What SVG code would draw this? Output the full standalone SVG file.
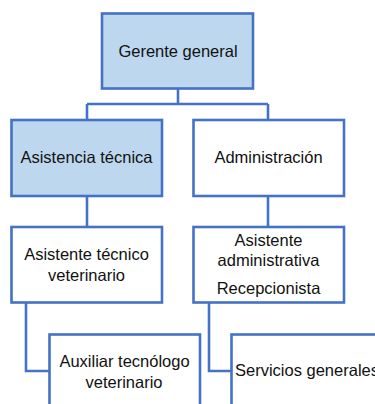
<svg xmlns="http://www.w3.org/2000/svg" width="375" height="404" viewBox="0 0 375 404">
<style>
.box{stroke:#4472C4;stroke-width:2.6;fill:#FFFFFF}
.blue{fill:#BDD7EE}
.lbl{font-family:"Liberation Sans",Arial,sans-serif;font-size:16.5px;fill:#111111;text-anchor:middle}
.lft{text-anchor:start}
.con{stroke:#4472C4;stroke-width:2.6;fill:none}
</style>
<rect width="375" height="404" fill="#FFFFFF"/>
<g id="connectors">
<path class="con" d="M178 88 V104 M87 104 H268 M87 104 V120 M268 104 V120"/>
<path class="con" d="M87 196 V227 M268 196 V227"/>
<path class="con" d="M26 303 V371 H49"/>
<path class="con" d="M209 303 V371 H231"/>
</g>
<g id="gerente">
<rect class="box blue" x="102" y="13.5" width="151" height="75"/>
<text class="lbl" x="178" y="57">Gerente general</text>
</g>
<g id="asistencia">
<rect class="box blue" x="11.5" y="120" width="150.5" height="76"/>
<text class="lbl" x="86.5" y="163">Asistencia técnica</text>
</g>
<g id="administracion">
<rect class="box" x="193.5" y="120" width="150.5" height="76"/>
<text class="lbl" x="268.5" y="163">Administración</text>
</g>
<g id="asistente-tecnico">
<rect class="box" x="11.5" y="227" width="150.5" height="75.5"/>
<text class="lbl" x="86.5" y="260">Asistente técnico</text>
<text class="lbl" x="86.5" y="281">veterinario</text>
</g>
<g id="asistente-administrativa">
<rect class="box" x="193.5" y="227" width="150.5" height="75.5"/>
<text class="lbl" x="268.5" y="246">Asistente</text>
<text class="lbl" x="268.5" y="266">administrativa</text>
<text class="lbl" x="268.5" y="294">Recepcionista</text>
</g>
<g id="auxiliar">
<rect class="box" x="49.5" y="334.5" width="150.5" height="80"/>
<text class="lbl" x="124.5" y="367">Auxiliar tecnólogo</text>
<text class="lbl" x="124" y="388">veterinario</text>
</g>
<g id="servicios">
<rect class="box" x="231.5" y="334.5" width="160" height="80"/>
<text class="lbl lft" x="235" y="376">Servicios generales</text>
</g>
</svg>
